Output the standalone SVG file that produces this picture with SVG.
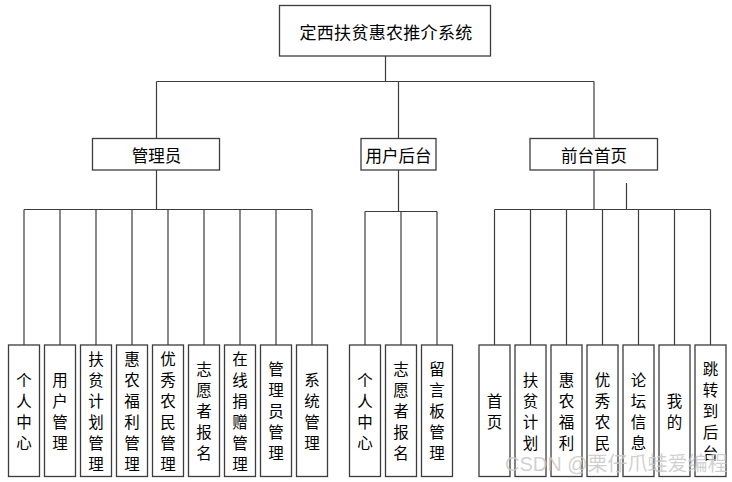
<svg xmlns="http://www.w3.org/2000/svg" width="732" height="482" viewBox="0 0 732 482">
<style>
.box{fill:#fff;stroke:#3c3c3c;stroke-width:1.3}
.ln{fill:none;stroke:#3c3c3c;stroke-width:1.2}
text{font-family:"Noto Sans CJK SC","Liberation Sans",sans-serif;fill:#000;text-anchor:middle;dominant-baseline:central}
.t{font-size:17px}
.m{font-size:16.5px}
.l{font-size:15.5px}
.wm{font-family:"Liberation Sans","Noto Sans CJK SC",sans-serif;font-size:20px;fill:#c8c8c8;fill-opacity:0.85;text-anchor:start;dominant-baseline:auto}
</style>
<rect width="732" height="482" fill="#fff"/>
<g id="connectors">
<path class="ln" d="M385.5 56 V81.5 M156.5 81.5 H594 M156.5 81.5 V138.5 M398.5 81.5 V138.5 M594 81.5 V138.5"/>
<path class="ln" d="M156.5 170 V209.5 M24 209.5 H312 M24 209.5 V345 M60 209.5 V345 M96 209.5 V345 M132 209.5 V345 M168 209.5 V345 M204 209.5 V345 M240 209.5 V345 M276 209.5 V345 M312 209.5 V345"/>
<path class="ln" d="M398.5 170 V211.5 M365 211.5 H437 M365 211.5 V345 M401 211.5 V345 M437 211.5 V345"/>
<path class="ln" d="M594 170 V209.5 M626.5 183 V209.5 M494.5 209.5 H710.5 M494.5 209.5 V345 M530.5 209.5 V345 M566.5 209.5 V345 M602.5 209.5 V345 M638.5 209.5 V345 M674.5 209.5 V345 M710.5 209.5 V345"/>
</g>
<g id="root"><rect class="box" x="279.5" y="5.5" width="211" height="50.5"/><text class="t" x="386" y="31.5" letter-spacing="0.3">定西扶贫惠农推介系统</text></g>
<g id="admin"><rect class="box" x="92.5" y="138.5" width="127" height="31.5"/><text class="m" x="156.5" y="154.5">管理员</text></g>
<g id="userback"><rect class="box" x="361" y="138.5" width="75" height="31.5"/><text class="m" x="398.5" y="154.5">用户后台</text></g>
<g id="front"><rect class="box" x="530" y="138.5" width="127.5" height="31.5"/><text class="m" x="594" y="154.5">前台首页</text></g>

<g id="a1"><rect class="box" x="8.5" y="345" width="31" height="131.5"/><text class="l"><tspan x="24" y="378.5">个</tspan><tspan x="24" y="399.5">人</tspan><tspan x="24" y="420.5">中</tspan><tspan x="24" y="441.5">心</tspan></text></g>
<g id="a2"><rect class="box" x="44.5" y="345" width="31" height="131.5"/><text class="l"><tspan x="60" y="378.5">用</tspan><tspan x="60" y="399.5">户</tspan><tspan x="60" y="420.5">管</tspan><tspan x="60" y="441.5">理</tspan></text></g>
<g id="a3"><rect class="box" x="80.5" y="345" width="31" height="131.5"/><text class="l"><tspan x="96" y="357.5">扶</tspan><tspan x="96" y="378.5">贫</tspan><tspan x="96" y="399.5">计</tspan><tspan x="96" y="420.5">划</tspan><tspan x="96" y="441.5">管</tspan><tspan x="96" y="462.5">理</tspan></text></g>
<g id="a4"><rect class="box" x="116.5" y="345" width="31" height="131.5"/><text class="l"><tspan x="132" y="357.5">惠</tspan><tspan x="132" y="378.5">农</tspan><tspan x="132" y="399.5">福</tspan><tspan x="132" y="420.5">利</tspan><tspan x="132" y="441.5">管</tspan><tspan x="132" y="462.5">理</tspan></text></g>
<g id="a5"><rect class="box" x="152.5" y="345" width="31" height="131.5"/><text class="l"><tspan x="168" y="357.5">优</tspan><tspan x="168" y="378.5">秀</tspan><tspan x="168" y="399.5">农</tspan><tspan x="168" y="420.5">民</tspan><tspan x="168" y="441.5">管</tspan><tspan x="168" y="462.5">理</tspan></text></g>
<g id="a6"><rect class="box" x="188.5" y="345" width="31" height="131.5"/><text class="l"><tspan x="204" y="368">志</tspan><tspan x="204" y="389">愿</tspan><tspan x="204" y="410">者</tspan><tspan x="204" y="431">报</tspan><tspan x="204" y="452">名</tspan></text></g>
<g id="a7"><rect class="box" x="224.5" y="345" width="31" height="131.5"/><text class="l"><tspan x="240" y="357.5">在</tspan><tspan x="240" y="378.5">线</tspan><tspan x="240" y="399.5">捐</tspan><tspan x="240" y="420.5">赠</tspan><tspan x="240" y="441.5">管</tspan><tspan x="240" y="462.5">理</tspan></text></g>
<g id="a8"><rect class="box" x="260.5" y="345" width="31" height="131.5"/><text class="l"><tspan x="276" y="368">管</tspan><tspan x="276" y="389">理</tspan><tspan x="276" y="410">员</tspan><tspan x="276" y="431">管</tspan><tspan x="276" y="452">理</tspan></text></g>
<g id="a9"><rect class="box" x="296.5" y="345" width="31" height="131.5"/><text class="l"><tspan x="312" y="378.5">系</tspan><tspan x="312" y="399.5">统</tspan><tspan x="312" y="420.5">管</tspan><tspan x="312" y="441.5">理</tspan></text></g>

<g id="u1"><rect class="box" x="349.5" y="345" width="31" height="131.5"/><text class="l"><tspan x="365" y="378.5">个</tspan><tspan x="365" y="399.5">人</tspan><tspan x="365" y="420.5">中</tspan><tspan x="365" y="441.5">心</tspan></text></g>
<g id="u2"><rect class="box" x="385.5" y="345" width="31" height="131.5"/><text class="l"><tspan x="401" y="368">志</tspan><tspan x="401" y="389">愿</tspan><tspan x="401" y="410">者</tspan><tspan x="401" y="431">报</tspan><tspan x="401" y="452">名</tspan></text></g>
<g id="u3"><rect class="box" x="421.5" y="345" width="31" height="131.5"/><text class="l"><tspan x="437" y="368">留</tspan><tspan x="437" y="389">言</tspan><tspan x="437" y="410">板</tspan><tspan x="437" y="431">管</tspan><tspan x="437" y="452">理</tspan></text></g>

<g id="f1"><rect class="box" x="479" y="345" width="31" height="131.5"/><text class="l"><tspan x="494.5" y="399.5">首</tspan><tspan x="494.5" y="420.5">页</tspan></text></g>
<g id="f2"><rect class="box" x="515" y="345" width="31" height="131.5"/><text class="l"><tspan x="530.5" y="378.5">扶</tspan><tspan x="530.5" y="399.5">贫</tspan><tspan x="530.5" y="420.5">计</tspan><tspan x="530.5" y="441.5">划</tspan></text></g>
<g id="f3"><rect class="box" x="551" y="345" width="31" height="131.5"/><text class="l"><tspan x="566.5" y="378.5">惠</tspan><tspan x="566.5" y="399.5">农</tspan><tspan x="566.5" y="420.5">福</tspan><tspan x="566.5" y="441.5">利</tspan></text></g>
<g id="f4"><rect class="box" x="587" y="345" width="31" height="131.5"/><text class="l"><tspan x="602.5" y="378.5">优</tspan><tspan x="602.5" y="399.5">秀</tspan><tspan x="602.5" y="420.5">农</tspan><tspan x="602.5" y="441.5">民</tspan></text></g>
<g id="f5"><rect class="box" x="623" y="345" width="31" height="131.5"/><text class="l"><tspan x="638.5" y="378.5">论</tspan><tspan x="638.5" y="399.5">坛</tspan><tspan x="638.5" y="420.5">信</tspan><tspan x="638.5" y="441.5">息</tspan></text></g>
<g id="f6"><rect class="box" x="659" y="345" width="31" height="131.5"/><text class="l"><tspan x="674.5" y="399.5">我</tspan><tspan x="674.5" y="420.5">的</tspan></text></g>
<g id="f7"><rect class="box" x="695" y="345" width="31" height="131.5"/><text class="l"><tspan x="710.5" y="368">跳</tspan><tspan x="710.5" y="389">转</tspan><tspan x="710.5" y="410">到</tspan><tspan x="710.5" y="431">后</tspan><tspan x="710.5" y="452">台</tspan></text></g>

<text class="wm" x="505" y="471">CSDN @栗仔爪蛙爱编程</text>
</svg>
